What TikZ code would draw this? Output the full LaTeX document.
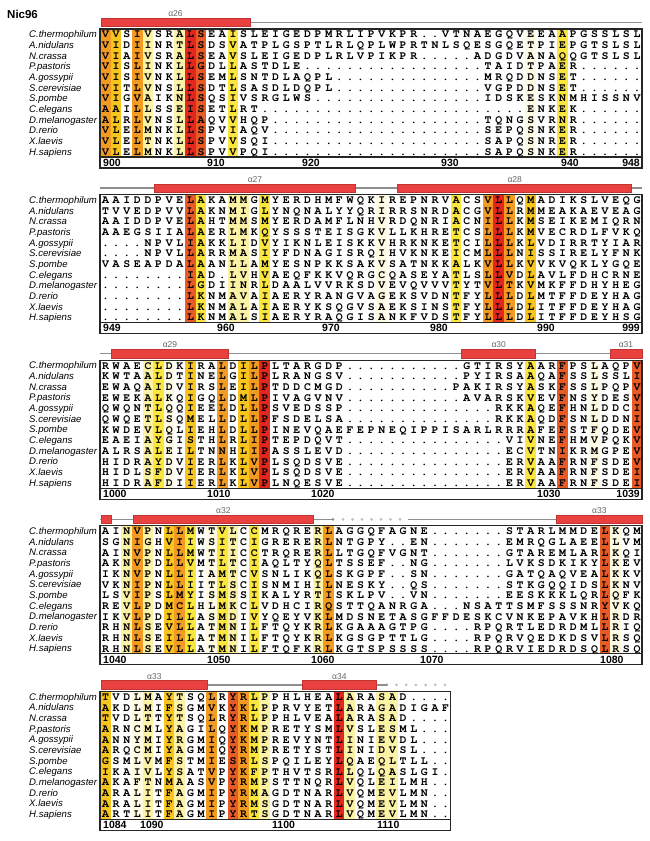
\documentclass[tikz,border=0pt]{standalone}
\usepackage{fontspec}
\setmainfont{Liberation Sans}
\newfontfamily\seqfont{TeX Gyre Cursor}
\definecolor{cRed}{HTML}{E3261E}
\definecolor{cRedOr}{HTML}{E85A26}
\definecolor{cOr}{HTML}{F29A22}
\definecolor{cGold}{HTML}{F8C51E}
\definecolor{cYel}{HTML}{FAE63C}
\definecolor{cLt}{HTML}{FCF2A6}
\definecolor{cPale}{HTML}{FEFBE2}
\definecolor{barred}{HTML}{E8413F}
\definecolor{barline}{HTML}{C23432}
\definecolor{ssgrey}{HTML}{8F8F8F}
\def\seqcharsloop#1{\ifx#1\relax\else\makebox[10.63pt]{#1}\expandafter\seqcharsloop\fi}
\tikzset{
 seqrow/.style={anchor=base west, inner sep=0, font=\seqfont\bfseries\fontsize{11.5}{12}\selectfont},
 spname/.style={anchor=base west, inner sep=0, font=\itshape\fontsize{9.6}{10}\selectfont},
 numlab/.style={anchor=base west, inner sep=0, font=\bfseries\fontsize{10.5}{11}\selectfont},
 numlabr/.style={numlab, anchor=base east},
 sslab/.style={inner sep=0, text=black!60, font=\fontsize{8.5}{9}\selectfont},
 helix/.style={fill=barred, draw=barline, line width=0.6},
 ssline/.style={draw=ssgrey, line width=1.5},
 ssdot/.style={fill=black!25, draw=none},
 boxline/.style={draw=black!85, line width=1.3},
}
% #1 block, #2 top, #3 row index, #4 species, #5 sequence
\newcommand\msarow[5]{%
  \node[spname] (sp#1-#3) at (29,{#2+5.33+(#3-1)*10.667+3.4}) {#4};
  \node[seqrow] (sq#1-#3) at (100,{#2+5.33+(#3-1)*10.667+3.6}) {\seqcharsloop#5\relax};
}
% #1 top, #2 colour list
\newcommand\msacols[2]{%
  \foreach \c/\cc in {#2} {\fill[\cc] ({100+(\c-1)*10.63},#1) rectangle ({100+\c*10.63},{#1+128});}
}
% #1 top, #2 number of columns
\newcommand\msabox[2]{%
  \draw[boxline] (100,{#1+128}) -- ({100+#2*10.63},{#1+128});
  \draw[boxline] (100,#1) rectangle ({100+#2*10.63},{#1+139});
}
\begin{document}
\begin{tikzpicture}[x=1pt,y=-1pt]
\useasboundingbox (0,0) rectangle (650,841);
\fill[white] (0,0) rectangle (650,841);
\node[font=\bfseries\fontsize{11.5}{12}\selectfont, anchor=base west, inner sep=0] (title) at (7,18) {Nic96};

% ---------- Block 1 ----------
\draw[ssline] (250,22.5) -- (642,22.5);
\draw[helix] (101,18.3) rectangle (250,26.7);
\node[sslab] (a26) at (175.5,14) {α26};
\msacols{29}{1/cOr,2/cGold,4/cOr,5/cLt,8/cLt,9/cRed,10/cRedOr,13/cYel,41/cPale,44/cYel}
\msarow{1}{29}{1}{C.thermophilum}{VVSIVSRALS EAISLEIGED PMRLIPVKPR ..VTNAEGQV EEAAPGSSLS L}
\msarow{1}{29}{2}{A.nidulans}{VIDIINRTLS DSVATPLGSP TLRLQPLWPR TNLSQESGQE TPIEPGTSLS L}
\msarow{1}{29}{3}{N.crassa}{VIAIVSRALS EAVSLEIGED PLRLVPIKPR ..... ADGDVANAQQGTSLSL}
\msarow{1}{29}{4}{P.pastoris}{VISLINKLLG DLLASTDLE ..... ..... ..... .. TAIDTPAER ......}
\msarow{1}{29}{5}{A.gossypii}{VISIVNKLLS EMLSNTDLAQ PL ..... ..... .... MRQDDNSET ......}
\msarow{1}{29}{6}{S.cerevisiae}{VITLVNSLLS DTLSASDLDQ PL ..... ..... .... VGPDDNSET ......}
\msarow{1}{29}{7}{S.pombe}{VIGVAIKNLS QSIVSRGLWS ..... ..... ..... . IDSKESKNMHISSNV}
\msarow{1}{29}{8}{C.elegans}{AAILLSSEIS ETLRT ..... ..... ..... ..... ..... ENKEK ......}
\msarow{1}{29}{9}{D.melanogaster}{ALRLVNSLLA QVVHQP ..... ..... ..... ..... TQNGSVRNR ......}
\msarow{1}{29}{10}{D.rerio}{VLELMNKLLS PVIAQV ..... ..... ..... ..... SEPQSNKER ......}
\msarow{1}{29}{11}{X.laevis}{VLELTNKLLS PVVSQI ..... ..... ..... ..... SAPQSNRER ......}
\msarow{1}{29}{12}{H.sapiens}{VLELMNKLLS PVVPQI ..... ..... ..... ..... SAPQSNKER ......}
\msabox{29}{51}
\node[numlab] (n900) at (103,166.2) {900};
\node[numlab] (n910) at (207,166.2) {910};
\node[numlab] (n920) at (302,166.2) {920};
\node[numlab] (n930) at (441,166.2) {930};
\node[numlab] (n940) at (561,166.2) {940};
\node[numlabr] (n948) at (640,166.2) {948};

% ---------- Block 2 ----------
\draw[ssline] (100,188.1) -- (642,188.1);
\draw[helix] (154,184) rectangle (355.7,192.3);
\draw[helix] (397.7,184) rectangle (631.7,192.3);
\node[sslab] (a27) at (255,179.6) {α27};
\node[sslab] (a28) at (514.7,179.6) {α28};
\msacols{194.6}{9/cRedOr,10/cYel,13/cLt,14/cLt,16/cYel,27/cPale,34/cYel,37/cOr,38/cRed,39/cOr,41/cGold}
\msarow{2}{194.6}{1}{C.thermophilum}{AAIDDPVELA KAMMGMYERD HMFWQKIREP NRVACSVLLQ MADIKSLVEQ G}
\msarow{2}{194.6}{2}{A.nidulans}{TVVEDPVVLA KNMIGLYNQN ALYYQRIRRS NRDACGVLLR MMEAKAEVEA G}
\msarow{2}{194.6}{3}{N.crassa}{AAIDDPVELA HTMMSMYERD AMFLNHVRDQ NRIACNILLK MSEIKEMIQR N}
\msarow{2}{194.6}{4}{P.pastoris}{AAEGSIIALA ERLMKQYSSS TEISGKVLLK HRETCSLLLK MVECRDLFVK Q}
\msarow{2}{194.6}{5}{A.gossypii}{....NPVLIA KKLIDVYIKN LEISKKVHRK NKETCILLLK LVDIRRTYIA R}
\msarow{2}{194.6}{6}{S.cerevisiae}{....NPVLLA RRMASIYFDN AGISRQIHVK NKEICMLLLN ISSIRELYFN K}
\msarow{2}{194.6}{7}{S.pombe}{VASEAPDALA ANLLAMYESN PKKSAKVSAT NKKALKVLLK VVKVQKLYGQ E}
\msarow{2}{194.6}{8}{C.elegans}{........IA D.LVHVAEQF KKVQRGCQAS EYATLSLLVD LAVLFDHCRN E}
\msarow{2}{194.6}{9}{D.melanogaster}{........LG DIINRLDAAL VVRKSDVEVQ VVVTYTVLTK VMKFFDHYHE G}
\msarow{2}{194.6}{10}{D.rerio}{........LK NMAVAIAERY RANGVAGEKS VDNTFYLLLD LMTFFDEYHA G}
\msarow{2}{194.6}{11}{X.laevis}{........LK NMALAIAERY KSQGVSAEKS INSTFYLLLD LITFFDEYHA G}
\msarow{2}{194.6}{12}{H.sapiens}{........LK NMALSIAERY RAQGISANKF VDSTFYLLLD LITFFDEYHS G}
\msabox{194.6}{51}
\node[numlab] (n949) at (103,331.8) {949};
\node[numlab] (n960) at (217,331.8) {960};
\node[numlab] (n970) at (322,331.8) {970};
\node[numlab] (n980) at (430,331.8) {980};
\node[numlab] (n990) at (537,331.8) {990};
\node[numlabr] (n999) at (640,331.8) {999};

% ---------- Block 3 ----------
\draw[ssline] (100,353.7) -- (642,353.7);
\draw[helix] (111.7,349.5) rectangle (228.3,357.9);
\draw[helix] (461.7,349.5) rectangle (535.7,357.9);
\draw[helix] (610,349.5) rectangle (642,357.9);
\node[sslab] (a29) at (170,345) {α29};
\node[sslab] (a30) at (498.7,345) {α30};
\node[sslab] (a31) at (626,345) {α31};
\msacols{360.2}{5/cLt,6/cYel,7/cPale,9/cGold,12/cOr,14/cGold,15/cOr,16/cRed,41/cYel,44/cRedOr,47/cPale,51/cRedOr}
\msarow{3}{360.2}{1}{C.thermophilum}{RWAECLDKIR ALDILPLTAR GDP ..... ..... . GTIRSYAARFPSLAQPV}
\msarow{3}{360.2}{2}{A.nidulans}{KWTAALDTIN ELGILPLRAN GSV ..... ..... . PYIRSAAQAFSSLSSLI}
\msarow{3}{360.2}{3}{N.crassa}{EWAQAIDVIR SLEILPTDDC MGD ..... ..... PAKIRSYASKFSSLPQPV}
\msarow{3}{360.2}{4}{P.pastoris}{EWEKALKQIG QLDMLPIVAG VNV ..... ..... . AVARSKVEVFNSYDESV}
\msarow{3}{360.2}{5}{A.gossypii}{QWQNTLQQIE ELDLLPSVED SSP ..... ..... .... RKKAQEFHNLDDCI}
\msarow{3}{360.2}{6}{S.cerevisiae}{QWQETLSQME LLDLLPFSDE LSA ..... ..... .... RKKAQDFSNLDDNI}
\msarow{3}{360.2}{7}{S.pombe}{KWDEVLQLIE HLDLLPINEV QAEFEPNEQI PPISARLRRR AFEFSTFQDE V}
\msarow{3}{360.2}{8}{C.elegans}{EAEIAYGIST HLRLIPTEPD QVT ..... ..... ..... VIVNEFHMVPQKV}
\msarow{3}{360.2}{9}{D.melanogaster}{ALRSALEILT NNHLIPASSL EVD ..... ..... ..... ECVTNIKRMGPEV}
\msarow{3}{360.2}{10}{D.rerio}{HIDRAYDVIE RLKLVPLSQD SVE ..... ..... ..... ERVAAFRNFSDEV}
\msarow{3}{360.2}{11}{X.laevis}{HIDLSFDVIE RLKLVPLSQD SVE ..... ..... ..... ERVAAFRNFSDEI}
\msarow{3}{360.2}{12}{H.sapiens}{HIDRAFDIIE RLKLVPLNQE SVE ..... ..... ..... ERVAAFRNFSDEI}
\msabox{360.2}{51}
\node[numlab] (n1000) at (103,497.4) {1000};
\node[numlab] (n1010) at (207,497.4) {1010};
\node[numlab] (n1020) at (311,497.4) {1020};
\node[numlab] (n1030) at (537,497.4) {1030};
\node[numlabr] (n1039) at (640,497.4) {1039};

% ---------- Block 4 ----------
\draw[ssline] (100,519.3) -- (333,519.3);
\fill[ssgrey] (333,519.3) circle (1.5);
\foreach \k in {0,...,6} {\fill[ssdot] ({343+\k*9.5},519.3) circle (1.5);}
\draw[ssline] (408,519.3) -- (642,519.3);
\draw[helix] (101.7,515.1) rectangle (111.7,523.5);
\draw[helix] (133.3,515.1) rectangle (313.3,523.5);
\draw[helix] (556.7,515.1) rectangle (642,523.5);
\node[sslab] (a32) at (223.3,510.6) {α32};
\node[sslab] (a33a) at (599.3,510.6) {α33};
\msacols{525.8}{3/cLt,4/cOr,5/cLt,7/cGold,8/cOr,9/cYel,11/cPale,12/cYel,13/cLt,15/cYel,21/cLt,22/cOr,48/cRedOr,49/cPale}
\msarow{4}{525.8}{1}{C.thermophilum}{AINVPNLLMW TVLCCMRQRE RL AGGQFAGNE ....... STARLMMDELKQM}
\msarow{4}{525.8}{2}{A.nidulans}{SGNIGHVIIW SITCIGRERE RL NTGPY..EN ....... EMRQGLAEELLVM}
\msarow{4}{525.8}{3}{N.crassa}{AINVPNLLMW TIICCTRQRE RL LTGQFVGNT ....... GTAREMLARLKQI}
\msarow{4}{525.8}{4}{P.pastoris}{AKNVPDLLVM TLTCIAQLTY QL TSSEF..NG ....... LVKSDKIKYLKEV}
\msarow{4}{525.8}{5}{A.gossypii}{IKNVPNLLII AMTCVSNLIK QL SKGPF..SN ....... GATQAQVEALKKV}
\msarow{4}{525.8}{6}{S.cerevisiae}{VKNIPNLLII TLSCISNMIH IL NESKY..QS ....... STKGQQIDSLKNV}
\msarow{4}{525.8}{7}{S.pombe}{LSVIPSLMYI SMSSIKALYR TI SKLPV..VN ....... EESKKKLQRLQFK}
\msarow{4}{525.8}{8}{C.elegans}{REVLPDMCLH LMKCLVDHCI RQ STTQANRGA ... NSATTSMFSSSNRYVKQ}
\msarow{4}{525.8}{9}{D.melanogaster}{IKVLPDILLA SMDIVYQEYV KL MDSNETASG FFDESKCVNKEPAVKHLRDR}
\msarow{4}{525.8}{10}{D.rerio}{RHNLSEVLLA TMNILFTQYK RL KGAAAGTPG .... RPQRTLEDRDMLLRIQ}
\msarow{4}{525.8}{11}{X.laevis}{RHNLSEILLA TMNILFTQYK RL KGSGPTTLG .... RPQRVQEDKDSVLRSQ}
\msarow{4}{525.8}{12}{H.sapiens}{RHNLSEVLLA TMNILFTQFK RL KGTSPSSSS .... RPQRVIEDRDSQLRSQ}
\msabox{525.8}{51}
\node[numlab] (n1040) at (103,663) {1040};
\node[numlab] (n1050) at (207,663) {1050};
\node[numlab] (n1060) at (311,663) {1060};
\node[numlab] (n1070) at (420,663) {1070};
\node[numlab] (n1080) at (600,663) {1080};

% ---------- Block 5 ----------
\draw[ssline] (101,684.9) -- (386.7,684.9);
\fill[ssgrey] (386.7,684.9) circle (1.5);
\foreach \k in {0,...,5} {\fill[ssdot] ({396.5+\k*9.7},684.9) circle (1.5);}
\draw[helix] (101,680.7) rectangle (207.7,689.1);
\draw[helix] (302,680.7) rectangle (376.7,689.1);
\node[sslab] (a33b) at (154.3,676.2) {α33};
\node[sslab] (a34) at (339.3,676.2) {α34};
\msacols{691.4}{1/cGold,4/cPale,5/cLt,7/cGold,8/cLt,11/cOr,13/cRedOr,14/cOr,15/cYel,16/cLt,23/cRed,24/cLt,27/cLt,28/cLt}
\msarow{5}{691.4}{1}{C.thermophilum}{TVDLMAYTSQ LRYRLPPHLH EALARASAD ....}
\msarow{5}{691.4}{2}{A.nidulans}{AKDLMIFSGM VKYKLPPRVY ETLARAGADIGAF}
\msarow{5}{691.4}{3}{N.crassa}{TVDLTTYTSQ LRYRLPPHLV EALARASAD ....}
\msarow{5}{691.4}{4}{P.pastoris}{ARNCMLYAGI LQYKMPRETY SMLVSLESML ...}
\msarow{5}{691.4}{5}{A.gossypii}{ANNYMIYRGM IQYKMPREVY NTLINIEVDL ...}
\msarow{5}{691.4}{6}{S.cerevisiae}{ARQCMIYAGM IQYRMPRETY STLINIDVSL ...}
\msarow{5}{691.4}{7}{S.pombe}{GSMLVMFSTM IESRLSPQIL EYLQAEQLTLL ..}
\msarow{5}{691.4}{8}{C.elegans}{IKAIVLYSAT VPYKFPTHVT SRLLQLQASLGI .}
\msarow{5}{691.4}{9}{D.melanogaster}{AKAFTNMAAS VPYRMPSTTN QRLVQLEILMH ..}
\msarow{5}{691.4}{10}{D.rerio}{ARALITFAGM IPYRMAGDTN ARLVQMEVLMN ..}
\msarow{5}{691.4}{11}{X.laevis}{ARALITFAGM IPYRMSGDTN ARLVQMEVLMN ..}
\msarow{5}{691.4}{12}{H.sapiens}{ARTLITFAGM IPYRTSGDTN ARLVQMEVLMN ..}
\msabox{691.4}{33}
\node[numlab] (n1084) at (103,828.6) {1084};
\node[numlab] (n1090) at (140,828.6) {1090};
\node[numlab] (n1100) at (272,828.6) {1100};
\node[numlab] (n1110) at (377,828.6) {1110};
\end{tikzpicture}
\end{document}
